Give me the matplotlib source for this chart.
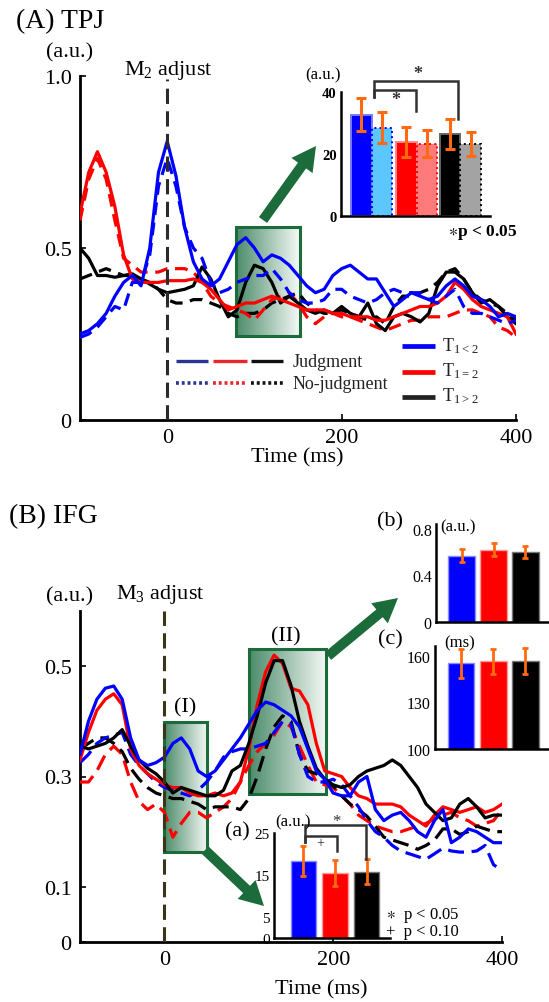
import numpy as np
import matplotlib
matplotlib.use("Agg")
import matplotlib.pyplot as plt
from matplotlib.patches import Rectangle, FancyArrow
from matplotlib.colors import LinearSegmentedColormap

plt.rcParams['font.family'] = ['Liberation Serif', 'DejaVu Serif']
plt.rcParams['mathtext.default'] = 'regular'

W, H = 549, 1003

# time axis (ms), 10 ms steps
t = np.arange(-100, 401, 10)

# (A) TPJ waveforms
tpj_blue_j = [.25, .26, .28, .31, .36, .40, .42, .39, .50, .72, .81, .71, .56, .46, .41, .39, .41, .46, .51, .53,
              .50, .46, .48, .47, .45, .42, .39, .37, .38, .42, .44, .45, .43, .41, .41, .37, .33, .35, .37, .36,
              .35, .36, .39, .41, .39, .36, .35, .33, .30, .31, .30]
tpj_blue_nj = [.24, .25, .27, .30, .33, .32, .40, .40, .48, .68, .76, .68, .56, .50, .47, .40, .37, .38, .40, .41,
               .42, .42, .44, .41, .37, .35, .34, .34, .35, .38, .38, .36, .35, .34, .35, .37, .38, .37, .37, .37,
               .35, .34, .36, .38, .33, .31, .31, .30, .29, .28, .29]
tpj_red_j = [.60, .72, .78, .72, .62, .48, .41, .40, .40, .40, .405, .405, .405, .41, .40, .38, .35, .32, .33, .34,
             .34, .35, .36, .35, .34, .33, .32, .32, .32, .31, .31, .30, .30, .30, .29, .29, .30, .31, .32, .33,
             .33, .34, .36, .40, .38, .35, .33, .32, .31, .30, .25]
tpj_red_nj = [.58, .70, .76, .70, .58, .47, .45, .43, .43, .43, .44, .44, .44, .43, .40, .36, .34, .33, .32, .31,
              .29, .32, .35, .36, .37, .34, .30, .28, .30, .31, .30, .30, .29, .28, .27, .26, .27, .28, .29, .29,
              .30, .30, .30, .31, .32, .32, .31, .30, .27, .26, .24]
tpj_black_j = [.50, .47, .42, .42, .415, .42, .425, .41, .395, .38, .37, .375, .38, .39, .445, .41, .35, .30, .32, .40,
               .45, .44, .40, .34, .36, .34, .32, .31, .32, .31, .33, .31, .30, .34, .28, .26, .30, .31, .30, .285,
               .31, .39, .43, .43, .41, .37, .34, .35, .33, .30, .28]
tpj_black_nj = [.41, .42, .43, .44, .43, .42, .42, .41, .40, .38, .35, .34, .34, .35, .35, .34, .33, .31, .30, .31,
                .31, .32, .34, .35, .36, .37, .34, .32, .31, .31, .32, .31, .30, .29, .30, .28, .33, .36, .36, .37,
                .38, .40, .43, .44, .41, .37, .35, .34, .33, .31, .29]

# (B) IFG waveforms
ifg_blue_j = [.34, .40, .44, .46, .464, .44, .37, .33, .32, .325, .335, .36, .37, .35, .31, .30, .31, .33, .35, .37,
              .395, .42, .435, .43, .42, .41, .39, .35, .31, .295, .27, .265, .265, .29, .30, .24, .22, .23, .235, .22,
              .20, .19, .22, .24, .18, .19, .205, .20, .19, .18, .18]
ifg_blue_nj = [.325, .34, .36, .37, .375, .38, .34, .32, .305, .29, .28, .275, .27, .265, .275, .29, .31, .335, .345, .35,
               .35, .355, .36, .38, .40, .395, .34, .30, .29, .29, .295, .285, .265, .245, .22, .20, .19, .175, .165, .16,
               .155, .15, .16, .17, .165, .163, .163, .165, .175, .14, .13]
ifg_red_j = [.33, .38, .42, .44, .45, .43, .35, .32, .305, .295, .285, .28, .28, .27, .265, .265, .27, .265, .27, .29,
             .35, .43, .49, .52, .505, .46, .455, .43, .36, .31, .305, .30, .28, .265, .26, .25, .25, .25, .245, .23,
             .22, .21, .23, .245, .24, .235, .24, .245, .235, .24, .25]
ifg_red_nj = [.29, .29, .31, .34, .355, .34, .29, .255, .24, .25, .235, .19, .215, .235, .235, .225, .235, .245, .26, .29,
              .32, .345, .36, .375, .40, .39, .355, .32, .29, .285, .28, .265, .25, .23, .22, .21, .205, .20, .20, .205,
              .21, .215, .223, .23, .235, .225, .22, .21, .215, .22, .24]
ifg_black_j = [.355, .35, .355, .36, .37, .385, .355, .33, .315, .305, .29, .27, .28, .275, .27, .265, .265, .275, .31, .32,
               .36, .41, .47, .51, .51, .465, .40, .355, .315, .295, .285, .28, .285, .30, .31, .315, .32, .33, .32, .30,
               .28, .25, .235, .22, .225, .25, .26, .245, .225, .23, .23]
ifg_black_nj = [.35, .36, .37, .37, .36, .345, .315, .295, .28, .27, .265, .26, .26, .255, .25, .24, .245, .245, .245, .24,
                .26, .30, .35, .39, .41, .40, .34, .31, .305, .29, .283, .265, .25, .24, .228, .21, .19, .185, .18, .175,
                .168, .175, .185, .205, .205, .195, .20, .21, .205, .20, .20]

# TPJ inset: judgment / no-judgment pairs per condition
tpj_bar_vals = [32.7, 28.5, 24.0, 23.3, 26.5, 23.3]
tpj_bar_err = [5.3, 5.0, 4.9, 4.4, 4.9, 3.8]

# IFG insets: (a) window I amplitude, (b) window II amplitude, (c) window II latency
ifg_a_vals = [18.4, 15.5, 15.8]
ifg_a_err = [3.6, 3.0, 3.0]
ifg_b_vals = [0.57, 0.62, 0.60]
ifg_b_err = [0.055, 0.055, 0.05]
ifg_c_vals = [155.0, 156.4, 156.7]
ifg_c_err = [9.5, 8.0, 8.5]

BLUE, RED, BLACK = '#0000ff', '#ff0000', '#000000'
ORANGE = '#ff6a10'
GREEN = '#1b6b3b'

fig = plt.figure(figsize=(W / 100, H / 100), dpi=100)


def rect(l, top, r, b):
    return [l / W, 1 - b / H, (r - l) / W, (b - top) / H]


def ftext(x, y, s, **kw):
    kw.setdefault('ha', 'center')
    kw.setdefault('va', 'center')
    fig.text(x / W, 1 - y / H, s, **kw)


def arrow(x0, y0, x1, y1):
    a = FancyArrow(x0 / 100, (H - y0) / 100, (x1 - x0) / 100, -(y1 - y0) / 100,
                   width=0.10, head_width=0.26, head_length=0.24, length_includes_head=True,
                   color=GREEN, lw=0, transform=fig.dpi_scale_trans)
    fig.add_artist(a)


grad = LinearSegmentedColormap.from_list('grad', ['#4b8b6a', '#f6faf7'])


def gradient_box(ax, x0, x1, y0, y1):
    ax.imshow(np.linspace(0, 1, 256).reshape(1, -1), cmap=grad, extent=[x0, x1, y0, y1],
              aspect='auto', zorder=1, interpolation='bilinear')
    ax.add_patch(Rectangle((x0, y0), x1 - x0, y1 - y0, fill=False, ec=GREEN, lw=2.2, zorder=2))


def style_main(ax):
    for s in ['top', 'right']:
        ax.spines[s].set_visible(False)
    for s in ['left', 'bottom']:
        ax.spines[s].set_linewidth(2)
    ax.tick_params(direction='in', length=4, width=1.2, labelsize=16, pad=6)


def style_inset(ax, size=11, weight='normal'):
    ax.set_facecolor('none')
    for s in ['top', 'right']:
        ax.spines[s].set_visible(False)
    for s in ['left', 'bottom']:
        ax.spines[s].set_linewidth(1.8)
    ax.tick_params(length=0, labelsize=size, pad=3)
    for lab in ax.get_yticklabels():
        lab.set_fontweight(weight)
    ax.set_xticks([])


def bracket(ax, x0, x1, y, yl, yr, color='#333333'):
    ax.plot([x0, x0, x1, x1], [yl, y, y, yr], color=color, lw=1.8, clip_on=False,
            solid_joinstyle='miter', zorder=5)


# ---------------- (A) TPJ ----------------
axA = fig.add_axes(rect(80, 77, 516, 421))
style_main(axA)
gradient_box(axA, 79, 152, 0.244, 0.561)

dashA = (4, 2.4)
axA.plot(t, tpj_black_nj, color=BLACK, lw=2.3, dashes=dashA, zorder=3)
axA.plot(t, tpj_red_nj, color=RED, lw=2.3, dashes=dashA, zorder=3)
axA.plot(t, tpj_black_j, color=BLACK, lw=2.3, zorder=4)
axA.plot(t, tpj_red_j, color=RED, lw=2.3, zorder=4)
axA.plot(t, tpj_blue_nj, color=BLUE, lw=2.3, dashes=dashA, zorder=5)
axA.plot(t, tpj_blue_j, color=BLUE, lw=2.3, zorder=6)
axA.plot([0, 0], [0, 0.99], color='#2b2b2b', lw=2.2, dashes=(5, 2.4), zorder=7)

axA.set_xlim(-100, 400)
axA.set_ylim(0, 1.0)
axA.set_xticks([0, 200, 400])
axA.set_yticks([0, 0.5, 1.0])
axA.set_yticklabels(['0', '0.5', '1.0'])

# condition legends
tr = axA.transAxes
for (x0, x1), c in zip([(0.220, 0.294), (0.305, 0.383), (0.392, 0.466)], ['#2a3590', '#e8262b', '#111111']):
    axA.plot([x0, x1], [0.1715, 0.1715], color=c, lw=2.4, transform=tr, solid_capstyle='butt')
    axA.plot([x0, x1], [0.1067, 0.1067], color=c, lw=2.6, dashes=(0.8, 0.8), transform=tr)
axA.text(0.488, 0.1715, 'Judgment', transform=tr, fontsize=13, va='center', color='#222222')
axA.text(0.488, 0.1067, 'No-judgment', transform=tr, fontsize=13, va='center', color='#222222')
for y, c, lab in [(0.214, BLUE, 'T$_{1<2}$'), (0.1395, RED, 'T$_{1=2}$'), (0.0669, '#222222', 'T$_{1>2}$')]:
    axA.plot([0.7385, 0.8142], [y, y], color=c, lw=3.4, transform=tr, solid_capstyle='butt')
    axA.text(0.8314, y + 0.005, lab, transform=tr, fontsize=13, va='center', color='#222222')

ftext(16, 22, '(A) TPJ', fontsize=20, ha='left')
ftext(70, 53, '(a.u.)', fontsize=16)
ftext(168, 70, 'M$_2$ adjust', fontsize=16)
ftext(297, 458, 'Time (ms)', fontsize=16)

# TPJ inset bars
axAi = fig.add_axes(rect(341, 93.3, 490, 216.7))
pos = [1, 2, 3.2, 4.2, 5.35, 6.35]
faces = ['#0000ff', '#5cc6ff', '#ff0000', '#ff7b7b', '#000000', '#a3a3a3']
edges = ['#7a7aff', '#0000ff', '#ff8a8a', '#ff0000', '#666666', '#000000']
styles = ['-', ':', '-', ':', '-', ':']
for p, v, fc, ec, ls in zip(pos, tpj_bar_vals, faces, edges, styles):
    axAi.bar(p, v, width=1.0, color=fc, edgecolor=ec, linestyle=ls, lw=1.4, zorder=2)
axAi.errorbar(pos, tpj_bar_vals, yerr=tpj_bar_err, fmt='none', ecolor=ORANGE, elinewidth=2.2,
              capsize=3.5, capthick=2.2, zorder=3)
axAi.set_xlim(0, 7.3)
axAi.set_ylim(0, 40)
axAi.set_yticks([0, 20, 40])
style_inset(axAi, size=10.5, weight='bold')
bracket(axAi, 1.6, 5.75, 43.8, 38.4, 31.4)
bracket(axAi, 1.6, 3.68, 40.6, 38.4, 34.1)
axAi.text(3.77, 46.2, '*', fontsize=13, ha='center', va='center', fontweight='bold', color='#333333')
axAi.text(2.66, 37.6, '*', fontsize=13, ha='center', va='center', fontweight='bold', color='#333333')
ftext(323, 75, '(a.u.)', fontsize=12)
ftext(483, 233, '$\\ast$p < 0.05', fontsize=12.5, fontweight='bold')

arrow(263, 221, 316, 147)

# ---------------- (B) IFG ----------------
axB = fig.add_axes(rect(80, 612, 502, 943))
style_main(axB)
gradient_box(axB, 0, 51, 0.1625, 0.398)
gradient_box(axB, 100, 192, 0.269, 0.532)

dashB = (5, 2.4)
axB.plot(t, ifg_red_nj, color=RED, lw=2.3, dashes=dashB, zorder=3)
axB.plot(t, ifg_black_nj, color=BLACK, lw=2.3, dashes=dashB, zorder=3)
axB.plot(t, ifg_blue_nj, color=BLUE, lw=2.3, dashes=dashB, zorder=3)
axB.plot(t, ifg_red_j, color=RED, lw=2.3, zorder=4)
axB.plot(t, ifg_black_j, color=BLACK, lw=2.3, zorder=4)
axB.plot(t, ifg_blue_j, color=BLUE, lw=2.3, zorder=5)
axB.plot([0, 0], [0, 0.6], color='#3a3518', lw=2.2, dashes=(5, 2.4), zorder=6)

axB.set_xlim(-100, 400)
axB.set_ylim(0, 0.6)
axB.set_xticks([0, 200, 400])
axB.set_yticks([0, 0.1, 0.3, 0.5])
axB.set_yticklabels(['0', '0.1', '0.3', '0.5'])

ftext(9, 517, '(B) IFG', fontsize=20, ha='left')
ftext(70, 597, '(a.u.)', fontsize=16)
ftext(160, 595, 'M$_3$ adjust', fontsize=16)
ftext(321, 990, 'Time (ms)', fontsize=16)
ftext(185, 708, '(I)', fontsize=16)
ftext(286, 637, '(II)', fontsize=16)

arrow(328, 657, 398, 599)
arrow(205, 851, 264, 907)

bar_cols = [BLUE, RED, BLACK]
bar_edges = ['#8a8aff', '#ff9a9a', '#777777']

# (b) amplitude in window II
axBb = fig.add_axes(rect(436, 525, 549, 623))
axBb.bar(range(3), ifg_b_vals, width=0.84, color=bar_cols, edgecolor=bar_edges, lw=1, zorder=2)
axBb.errorbar(range(3), ifg_b_vals, yerr=ifg_b_err, fmt='none', ecolor=ORANGE, elinewidth=2,
              capsize=2.5, capthick=2, zorder=3)
axBb.set_xlim(-0.81, 2.745)
axBb.set_ylim(0, 0.84)
axBb.set_yticks([0, 0.4, 0.8])
axBb.set_yticklabels(['0', '0.4', '0.8'])
style_inset(axBb, size=11.5)
ftext(390, 522, '(b)', fontsize=16)
ftext(458, 527, '(a.u.)', fontsize=12)

# (c) latency in window II
axBc = fig.add_axes(rect(435, 646.7, 549, 750))
axBc.bar(range(3), ifg_c_vals, width=0.84, bottom=0, color=bar_cols, edgecolor=bar_edges, lw=1, zorder=2)
axBc.errorbar(range(3), ifg_c_vals, yerr=ifg_c_err, fmt='none', ecolor=ORANGE, elinewidth=2,
              capsize=2.5, capthick=2, zorder=3)
axBc.set_xlim(-0.81, 2.745)
axBc.set_ylim(100, 166.4)
axBc.set_yticks([100, 130, 160])
style_inset(axBc, size=11.5)
ftext(390, 640, '(c)', fontsize=16)
ftext(460, 643, '(ms)', fontsize=12)

# (a) amplitude in window I
axBa = fig.add_axes(rect(274, 834, 390, 939))
axBa.bar(range(3), ifg_a_vals, width=0.79, color=bar_cols, edgecolor=bar_edges, lw=1, zorder=2)
axBa.errorbar(range(3), ifg_a_vals, yerr=ifg_a_err, fmt='none', ecolor=ORANGE, elinewidth=2,
              capsize=2.5, capthick=2, zorder=3)
axBa.set_xlim(-0.92, 2.73)
axBa.set_ylim(0, 25)
axBa.set_yticks([0, 5, 15, 25])
style_inset(axBa, size=11)
bracket(axBa, 0.06, 1.97, 26.9, 22.9, 18.8)
bracket(axBa, 0.06, 1.06, 24.4, 22.9, 20.8)
axBa.text(1.03, 27.9, '*', fontsize=12, ha='center', va='center', color='#333333')
axBa.text(0.55, 22.6, '+', fontsize=10, ha='center', va='center', color='#333333')
ftext(237, 832, '(a)', fontsize=16)
ftext(293, 822, '(a.u.)', fontsize=12)
ftext(386, 916, '$\\ast$  p < 0.05', fontsize=12, ha='left')
ftext(386, 932, '+  p < 0.10', fontsize=12, ha='left')

fig.savefig('out.png', dpi=100)
